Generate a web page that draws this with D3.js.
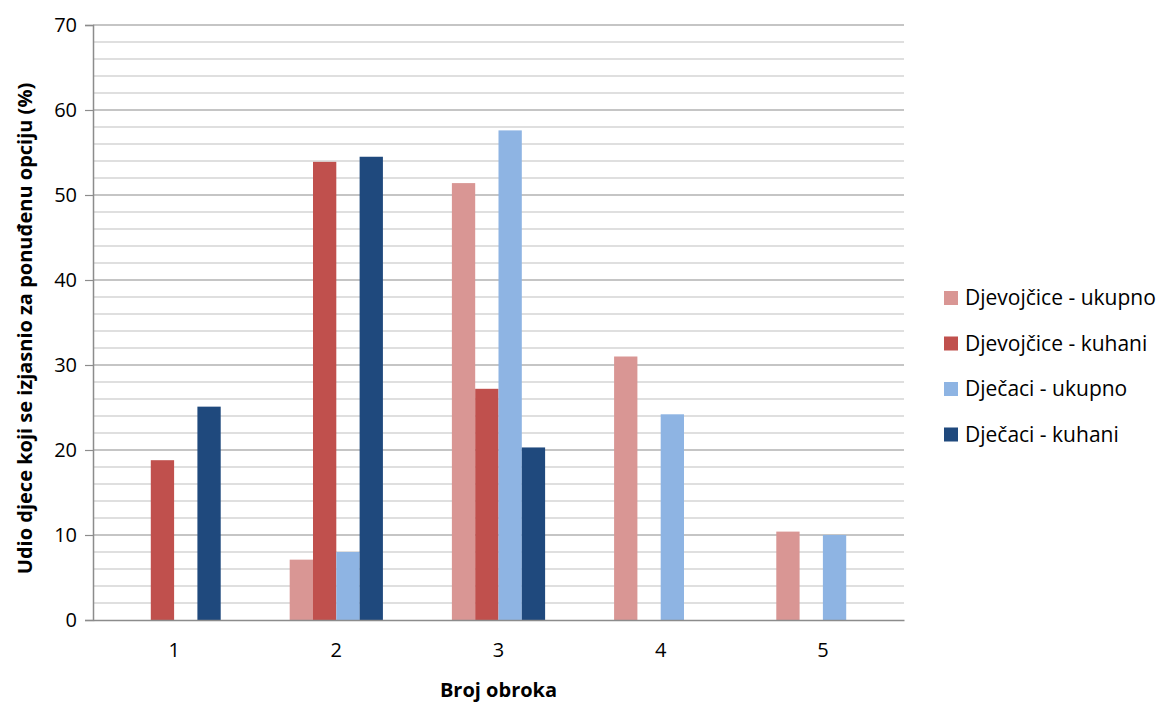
<!DOCTYPE html>
<html>
<head>
<meta charset="utf-8">
<script src="https://cdn.jsdelivr.net/npm/d3@7"></script>
<style>
  body { margin: 0; background: #fff; }
  svg { font-family: "Open Sans", sans-serif; }
</style>
</head>
<body>
<div id="chart"></div>
<script>
const categories = ["1", "2", "3", "4", "5"];
const seriesNames = ["Djevojčice - ukupno", "Djevojčice - kuhani", "Dječaci - ukupno", "Dječaci - kuhani"];
const djevojciceUkupno = [0, 7.1, 51.4, 31.0, 10.4];
const djevojciceKuhani = [18.8, 53.9, 27.2, 0, 0];
const djecaciUkupno = [0, 8.0, 57.6, 24.2, 10.0];
const djecaciKuhani = [25.1, 54.5, 20.3, 0, 0];
const colors = ["#D99694", "#C0504D", "#8EB4E3", "#1F497D"];
const yTicks = [0, 10, 20, 30, 40, 50, 60, 70];

const seriesValues = [djevojciceUkupno, djevojciceKuhani, djecaciUkupno, djecaciKuhani];

const width = 1164, height = 702;
const margin = { top: 25, left: 93, right: 260, bottom: 82 };

const svg = d3.select("#chart").append("svg")
  .attr("width", width)
  .attr("height", height);

const x = d3.scaleBand().domain(categories)
  .range([margin.left, width - margin.right])
  .paddingInner(0).paddingOuter(0);
const xs = d3.scaleBand().domain(seriesNames)
  .range([0, x.bandwidth()])
  .paddingInner(0)
  .paddingOuter(1.48);
const y = d3.scaleLinear().domain([0, 70])
  .range([height - margin.bottom, margin.top]);

// minor gridlines every 2
const minor = d3.range(2, 70, 2).filter(v => v % 10 !== 0);
svg.append("g").selectAll("line").data(minor).enter().append("line")
  .attr("x1", margin.left).attr("x2", width - margin.right)
  .attr("y1", d => y(d)).attr("y2", d => y(d))
  .attr("stroke", "#BFBFBF").attr("stroke-width", 1.2);

// major gridlines
svg.append("g").selectAll("line").data(yTicks.slice(1)).enter().append("line")
  .attr("x1", margin.left).attr("x2", width - margin.right)
  .attr("y1", d => y(d)).attr("y2", d => y(d))
  .attr("stroke", "#8C8C8C").attr("stroke-width", 1.2);

// bars
seriesNames.forEach((name, i) => {
  svg.append("g").selectAll("rect").data(categories).enter().append("rect")
    .attr("x", c => x(c) + xs(name))
    .attr("width", xs.bandwidth())
    .attr("y", (c, j) => y(seriesValues[i][j]))
    .attr("height", (c, j) => y(0) - y(seriesValues[i][j]))
    .attr("fill", colors[i]);
});

// y axis
const yAxis = svg.append("g")
  .attr("transform", `translate(${margin.left},0)`)
  .call(d3.axisLeft(y).tickValues(yTicks).tickSize(8).tickPadding(8));
yAxis.select(".domain").attr("stroke", "#8C8C8C").attr("stroke-width", 1.5);
yAxis.selectAll(".tick line").attr("stroke", "#8C8C8C").attr("stroke-width", 1.2);
yAxis.selectAll(".tick text").attr("font-size", 20).attr("fill", "#000")
  .attr("font-family", "'Open Sans', sans-serif");

// x axis
const xAxis = svg.append("g")
  .attr("transform", `translate(0,${y(0)})`)
  .call(d3.axisBottom(x).tickSize(0).tickPadding(23));
xAxis.select(".domain").attr("stroke", "#8C8C8C").attr("stroke-width", 1.5);
xAxis.selectAll(".tick text").attr("font-size", 20).attr("fill", "#000")
  .attr("font-family", "'Open Sans', sans-serif");

// axis titles
svg.append("text")
  .attr("transform", `translate(32,${(y(0) + y(70)) / 2 + 6}) rotate(-90)`)
  .attr("text-anchor", "middle")
  .attr("font-size", 20).attr("font-weight", "bold")
  .text("Udio djece koji se izjasnio za ponuđenu opciju (%)");

svg.append("text")
  .attr("x", (margin.left + width - margin.right) / 2)
  .attr("y", 697)
  .attr("text-anchor", "middle")
  .attr("font-size", 20).attr("font-weight", "bold")
  .text("Broj obroka");

// legend
const legend = svg.append("g").attr("transform", "translate(944,291)");
seriesNames.forEach((name, i) => {
  const g = legend.append("g").attr("transform", `translate(0,${i * 45.5})`);
  g.append("rect").attr("width", 14).attr("height", 14).attr("fill", colors[i]);
  g.append("text").attr("x", 21).attr("y", 7).attr("dy", "0.35em")
    .attr("font-size", 21).text(name);
});
</script>
</body>
</html>
